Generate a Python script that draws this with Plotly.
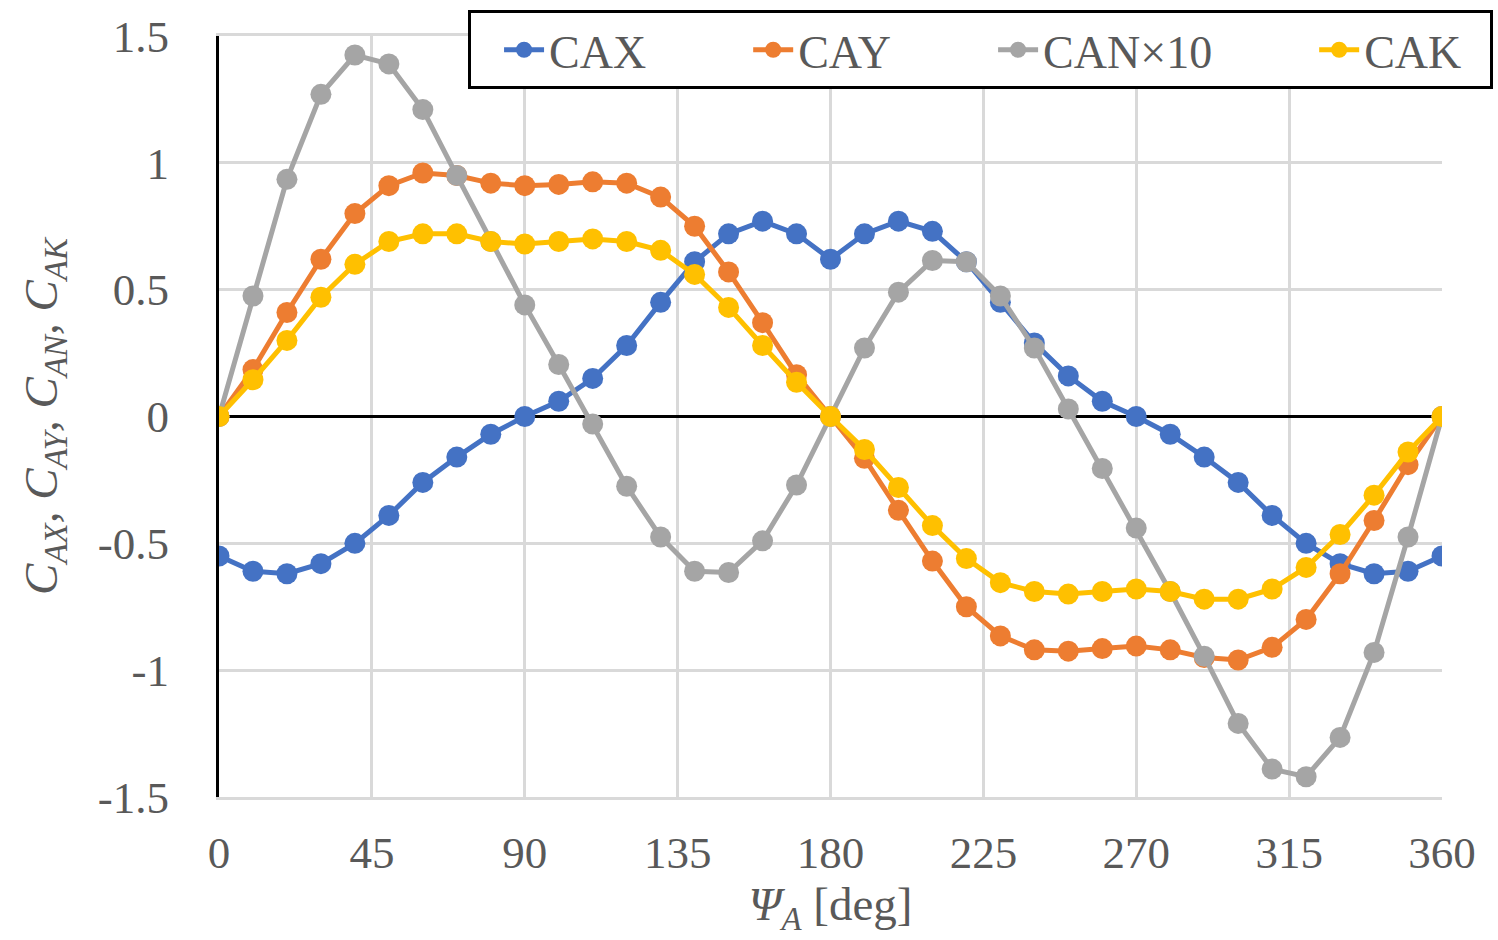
import plotly.graph_objects as go

angles = list(range(0, 361, 10))

cax = [-0.55, -0.61, -0.62, -0.58, -0.50, -0.39, -0.26, -0.16, -0.07, 0.0,
       0.06, 0.15, 0.28, 0.45, 0.61, 0.72, 0.77, 0.72, 0.62,
       0.72, 0.77, 0.73, 0.61, 0.45, 0.29, 0.16, 0.06, 0.0,
       -0.07, -0.16, -0.26, -0.39, -0.50, -0.58, -0.62, -0.61, -0.55]

cay = [0.0, 0.185, 0.41, 0.62, 0.80, 0.91, 0.96, 0.95, 0.92, 0.91,
       0.915, 0.925, 0.92, 0.865, 0.75, 0.57, 0.37, 0.165, 0.0,
       -0.165, -0.37, -0.57, -0.75, -0.865, -0.92, -0.925, -0.915, -0.905,
       -0.92, -0.95, -0.96, -0.91, -0.80, -0.62, -0.41, -0.19, 0.0]

can10 = [0.0, 0.475, 0.935, 1.27, 1.425, 1.39, 1.21, 0.95, 0.69, 0.44,
         0.205, -0.03, -0.275, -0.475, -0.61, -0.615, -0.49, -0.27, 0.0,
         0.27, 0.49, 0.615, 0.61, 0.475, 0.27, 0.03, -0.205, -0.44,
         -0.69, -0.945, -1.21, -1.39, -1.42, -1.265, -0.93, -0.475, 0.0]

cak = [0.0, 0.145, 0.30, 0.47, 0.60, 0.69, 0.72, 0.72, 0.69, 0.68,
       0.69, 0.70, 0.69, 0.655, 0.56, 0.43, 0.28, 0.135, 0.0,
       -0.13, -0.28, -0.43, -0.56, -0.655, -0.69, -0.70, -0.69, -0.68,
       -0.69, -0.72, -0.72, -0.68, -0.595, -0.465, -0.31, -0.14, 0.0]

series_names = ["CAX", "CAY", "CAN×10", "CAK"]
series_values = [cax, cay, can10, cak]
series_colors = ["#4472C4", "#ED7D31", "#A5A5A5", "#FFC000"]

x_ticks = [0, 45, 90, 135, 180, 225, 270, 315, 360]
y_ticks = [-1.5, -1, -0.5, 0, 0.5, 1, 1.5]
y_tick_text = ["-1.5", "-1", "-0.5", "0", "0.5", "1", "1.5"]

FONT = "Liberation Serif, Times New Roman, serif"
GRID = "#d9d9d9"
TXT = "#595959"
NB = "\u00a0"
legend_pad = [6, 6, 6, 2]  # trailing spacing in legend entries

fig = go.Figure()
for name, vals, col, pad in zip(series_names, series_values, series_colors, legend_pad):
    fig.add_trace(go.Scatter(
        x=angles, y=vals, name=name + NB * pad, mode="lines+markers",
        line=dict(color=col, width=5),
        marker=dict(color=col, size=21),
        hovertemplate=name + ": %{y}<extra></extra>",
    ))

fig.update_layout(
    width=1498, height=940,
    margin=dict(l=219, r=56, t=36, b=143, autoexpand=False),
    paper_bgcolor="white", plot_bgcolor="white",
    font=dict(family=FONT, size=45, color=TXT),
    showlegend=True,
    legend=dict(
        orientation="h", xref="container", yref="container",
        x=0.9967, xanchor="right", y=0.989, yanchor="top",
        bgcolor="white", bordercolor="black", borderwidth=3,
        font=dict(family=FONT, size=46, color=TXT),
        itemwidth=40, tracegroupgap=0, indentation=28,
    ),
    xaxis=dict(
        range=[0, 360], tickvals=x_ticks, ticktext=[str(v) for v in x_ticks],
        showgrid=True, gridcolor=GRID, gridwidth=3,
        showline=True, linecolor=GRID, linewidth=3, mirror=True,
        zeroline=False, ticks="", ticklabelstandoff=14,
        title=dict(text="<i>Ψ<sub>A</sub></i> [deg]", standoff=8,
                   font=dict(family=FONT, size=47, color=TXT)),
    ),
    yaxis=dict(
        range=[-1.5, 1.5], tickvals=y_ticks, ticktext=y_tick_text,
        showgrid=True, gridcolor=GRID, gridwidth=3,
        showline=True, linecolor="black", linewidth=3,
        zeroline=True, zerolinecolor="black", zerolinewidth=3,
        ticks="", ticklabelstandoff=38,
        title=dict(text="<i>C<sub>AX</sub>, C<sub>AY</sub>, C<sub>AN</sub>, C<sub>AK</sub></i>",
                   standoff=26, font=dict(family=FONT, size=47, color=TXT)),
    ),
)

fig.write_html("out.html")
